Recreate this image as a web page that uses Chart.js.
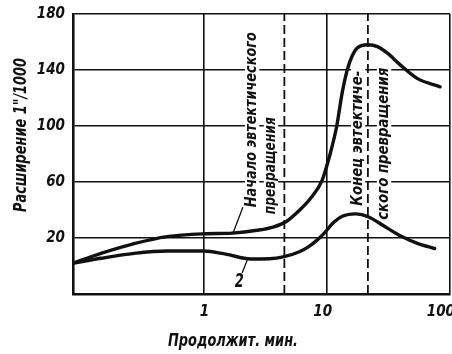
<!DOCTYPE html>
<html>
<head>
<meta charset="utf-8">
<script src="https://cdn.jsdelivr.net/npm/chart.js@4/dist/chart.umd.min.js"></script>
<style>
  html, body { margin: 0; padding: 0; background: #fff; }
  canvas { display: block; }
</style>
</head>
<body>
<canvas id="chart" width="452" height="354"></canvas>
<script>
// Dilatometric expansion vs. holding time (log scale)
const curve1Minutes = [0.086, 0.145, 0.27, 0.5, 1, 1.7, 2.7, 3.7, 4.7, 6, 7.3, 9.1, 10.6, 12, 13.3, 14.6, 16, 17.5, 21.5, 26, 31, 39, 54, 83];
const curve1Expansion = [2, 9, 16, 21, 23, 23.5, 25.5, 28, 32, 40, 48, 61, 80, 100, 124, 140, 150, 155.5, 158, 156.5, 152, 144, 134, 128];

const curve2Minutes = [0.086, 0.145, 0.27, 0.5, 1, 1.5, 2.4, 3.4, 4.4, 5.9, 7, 8.3, 9.5, 11.3, 13.3, 17, 21.8, 29.7, 40.5, 55, 75];
const curve2Expansion = [2, 5.5, 9, 10.7, 10.7, 8.5, 5, 5.2, 6.5, 10, 13.5, 18.5, 23.5, 31, 35.5, 37.2, 35, 28, 21, 16, 12.5];

// start / end of the eutectic transformation (dashed verticals)
const markerMinutes = [4.5, 21.5];

const xTicks = [1, 10, 100];
const yTicks = [-20, 20, 60, 100, 140, 180];
const yLabelled = [20, 60, 100, 140, 180];

const xTitle = 'Продолжит. мин.';
const yTitle = 'Расширение 1"/1000';

// rotated notes: each line anchored at its lower end (minutes, expansion), len = run length in px
const noteLines = [
  { text: 'Начало эвтектического', t: 2.46, v: 42, len: 175 },
  { text: 'превращения', t: 3.5, v: 37, len: 97 },
  { text: 'Конец эвтектиче-', t: 17.9, v: 43, len: 135 },
  { text: 'ского превращения', t: 29.1, v: 33, len: 152 }
];

// curve numbers with leader lines
const curveTags = [
  { tag: '', from: [1.72, 23.6], to: [2.07, 42] },
  { tag: '2', from: [2.28, 5.7], to: [2.04, -5], at: [1.93, -11.5] }
];

const INK = '#111';
const BASE = "'DejaVu Sans'";

// pick a narrow face for the lettering if one is installed
const probe = document.createElement('canvas').getContext('2d');
function numWidth(weight, family, size) {
  probe.font = `italic ${weight} ${size}px ${family}, ${BASE}`;
  return probe.measureText('180').width;
}
const baseWidth = numWidth('bold', BASE, 18);
const faceChoices = [
  ['bold', "'Liberation Sans Narrow'"],
  ['bold', "'DejaVu Sans Condensed'"],
  ['bold condensed', BASE],
  ['bold', "'Roboto Condensed'"],
  ['bold', 'Roboto']
];
const face = faceChoices.find(f => numWidth(f[0], f[1], 18) < baseWidth * 0.9) || ['bold', BASE];
const tickFamily = `${face[1]}, ${BASE}`;
const tickSize = Math.min(19, Math.round(18 * 27.5 / numWidth(face[0], face[1], 18)));
const tickFont = { family: tickFamily, size: tickSize, style: 'italic', weight: face[0] };

// draw a line of text fitted to a given run length
function squeezed(ctx, text, x, y, len, size, opts) {
  ctx.save();
  ctx.translate(x, y);
  if (opts.rotate) ctx.rotate(-Math.PI / 2);
  ctx.font = `italic ${face[0]} ${size}px ${tickFamily}`;
  const w = ctx.measureText(text).width;
  ctx.scale(len / w, 1);
  ctx.textBaseline = 'middle';
  ctx.textAlign = opts.align;
  const x0 = opts.align === 'center' ? -w / 2 : 0;
  if (opts.knockout) {
    ctx.fillStyle = '#fff';
    ctx.fillRect(x0 - 3, -size * 0.45, w + 6, size * 0.9);
  }
  ctx.fillStyle = INK;
  ctx.fillText(text, 0, 0);
  ctx.restore();
}

function pts(xs, ys) { return xs.map((x, i) => ({ x: x, y: ys[i] })); }

const datasets = [];
markerMinutes.forEach(m => {
  datasets.push({
    data: [{ x: m, y: -20 }, { x: m, y: 180 }],
    borderColor: INK, borderWidth: 1.8, borderDash: [9, 4],
    pointRadius: 0, fill: false
  });
});
[[curve1Minutes, curve1Expansion], [curve2Minutes, curve2Expansion]].forEach(([xs, ys]) => {
  datasets.push({
    data: pts(xs, ys),
    borderColor: INK, borderWidth: 3.4, pointRadius: 0,
    cubicInterpolationMode: 'monotone', fill: false, borderCapStyle: 'round'
  });
});

const textPlugin = {
  id: 'texts',
  beforeDatasetsDraw(chart) {
    const { ctx, scales: { x, y } } = chart;
    noteLines.forEach(n => {
      squeezed(ctx, n.text, x.getPixelForValue(n.t), y.getPixelForValue(n.v), n.len, 16,
        { rotate: true, align: 'left', knockout: true });
    });
  },
  afterDraw(chart) {
    const { ctx, scales: { x, y } } = chart;
    ctx.save();
    ctx.strokeStyle = INK;
    ctx.lineWidth = 1.3;
    curveTags.forEach(c => {
      ctx.beginPath();
      ctx.moveTo(x.getPixelForValue(c.from[0]), y.getPixelForValue(c.from[1]));
      ctx.lineTo(x.getPixelForValue(c.to[0]), y.getPixelForValue(c.to[1]));
      ctx.stroke();
      if (c.tag) {
        squeezed(ctx, c.tag, x.getPixelForValue(c.at[0]), y.getPixelForValue(c.at[1]), 9, 20,
          { rotate: false, align: 'center' });
      }
    });
    ctx.restore();
    // axis titles
    squeezed(ctx, xTitle, 233, 342, 130, 17, { rotate: false, align: 'center' });
    squeezed(ctx, yTitle, 22, 135, 154, 17, { rotate: true, align: 'center' });
  }
};

new Chart(document.getElementById('chart'), {
  type: 'line',
  data: { datasets },
  plugins: [textPlugin],
  options: {
    responsive: false,
    animation: false,
    layout: { padding: { top: 14, right: 2, left: 0, bottom: 0 } },
    plugins: { legend: { display: false }, tooltip: { enabled: false } },
    scales: {
      x: {
        type: 'logarithmic',
        min: 0.086, max: 100,
        afterBuildTicks: s => { s.ticks = xTicks.map(v => ({ value: v })); },
        afterFit: s => { s.height = 60; s.paddingLeft = 0; s.paddingRight = 0; },
        grid: { color: INK, lineWidth: 1.6, drawTicks: false },
        border: { display: true, color: INK, width: 2.4 },
        ticks: {
          color: INK, padding: 9, align: 'end', labelOffset: 5, maxRotation: 0, autoSkip: false,
          font: tickFont,
          callback: v => String(v)
        }
      },
      y: {
        min: -20, max: 180,
        afterBuildTicks: s => { s.ticks = yTicks.map(v => ({ value: v })); },
        afterFit: s => { s.width = 73; s.paddingTop = 0; s.paddingBottom = 0; },
        grid: { color: INK, lineWidth: 1.6, drawTicks: false },
        border: { display: true, color: INK, width: 2.6 },
        ticks: {
          color: INK, padding: 8, autoSkip: false,
          font: tickFont,
          callback: v => yLabelled.includes(v) ? String(v) : ''
        }
      }
    }
  }
});
</script>
</body>
</html>
